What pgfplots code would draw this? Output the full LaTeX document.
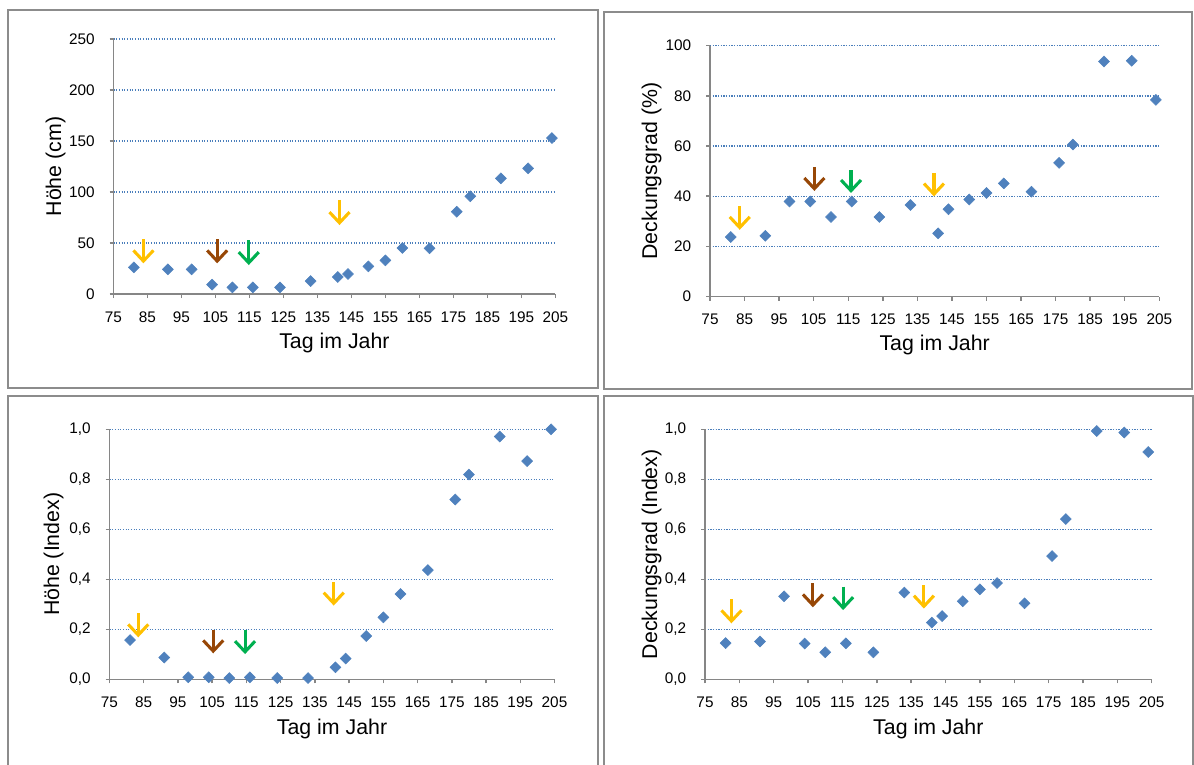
\documentclass[border=0pt]{standalone}
\usepackage{pgfplots}
\pgfplotsset{compat=1.18}
\usepackage{fontspec}
\setmainfont{Liberation Sans}
\usetikzlibrary{arrows.meta}
\definecolor{ptblue}{HTML}{4F81BD}
\definecolor{gridblue}{HTML}{4A7EBB}
\definecolor{axgray}{HTML}{868686}
\definecolor{boxgray}{HTML}{8C8C8C}
\definecolor{ayellow}{HTML}{FFC000}
\definecolor{abrown}{HTML}{974706}
\definecolor{agreen}{HTML}{00B050}
\pgfplotsset{
  panel/.style={
    scale only axis,
    xmin=75, xmax=205,
    xtick={75,85,...,205},
    axis x line*=bottom, axis y line*=left,
    axis line style={axgray, line width=1.1pt, -},
    tick style={axgray, line width=1.1pt},
    major tick length=3pt,
    tick align=outside,
    ymajorgrids,
    major grid style={gridblue, line width=1pt, dash pattern=on 0.9pt off 1.1pt},
    tick label style={font=\fontsize{11.5}{13}\selectfont},
    xticklabel style={anchor=center, inner sep=0pt, yshift=-14.25pt},
    yticklabel style={anchor=east, inner sep=0pt, xshift=-10.9pt},
    label style={font=\fontsize{16}{19}\selectfont},
    /pgf/number format/assume math mode=true,
    clip=false,
    xlabel={Tag im Jahr},
  },
  pts/.style={only marks, mark=square*, mark size=2.9pt, mark options={rotate=45, fill=ptblue, draw=ptblue}},
  arr/.style={no marks, line width=2.3pt, -{Straight Barb[length=8pt, width=15pt]}},
}
\begin{document}
\begin{tikzpicture}
\useasboundingbox (0,0) rectangle (895.5pt,-573pt);
\draw[boxgray, line width=1.5pt] (5.625pt,-7.125pt) rectangle (448.125pt,-290.625pt);
\draw[boxgray, line width=1.5pt] (453pt,-8.775pt) rectangle (894pt,-291.975pt);
\draw[boxgray, line width=1.5pt] (6.3pt,-297pt) rectangle (448.125pt,-590pt);
\draw[boxgray, line width=1.5pt] (453pt,-297pt) rectangle (894.75pt,-590pt);

% Panel 1
\begin{axis}[panel, at={(85.125pt,-220.5pt)}, anchor=south west,
  width=331.35pt, height=191.25pt,
  ymin=0, ymax=250, ytick={0,50,...,250},
  ylabel={Höhe (cm)},
  xlabel style={at={(axis description cs:0.5,-0.191)}, anchor=center},
  ylabel style={at={(axis description cs:-0.131,0.5)}, anchor=center}]
\addplot[pts] coordinates {
(81,26.1) (91,24.2) (98,24.2) (104,9.2) (110,6.5) (116,6.5) (124,6.5) (133,12.7)
(141,16.7) (144,19.6) (150,27.1) (155,33.0) (160,45.1) (168,44.8) (176,80.7)
(180,95.8) (189,113.4) (197,123.2) (204,152.9)};
\addplot[arr, ayellow] coordinates {(83.8,53.9) (83.8,30.1)};
\addplot[arr, abrown] coordinates {(105.5,53.9) (105.5,30.1)};
\addplot[arr, agreen] coordinates {(114.8,52.9) (114.8,28.4)};
\addplot[arr, ayellow] coordinates {(141.5,92.2) (141.5,67.6)};
\end{axis}

% Panel 2
\begin{axis}[panel, at={(532.5pt,-222.375pt)}, anchor=south west,
  width=336.975pt, height=188.1pt,
  ymin=0, ymax=100, ytick={0,20,...,100},
  ylabel={Deckungsgrad (\%)},
  xlabel style={at={(axis description cs:0.5,-0.193)}, anchor=center},
  ylabel style={at={(axis description cs:-0.130,0.5)}, anchor=center}]
\addplot[pts] coordinates {
(81,23.7) (91,24.2) (98,37.9) (104,37.9) (110,31.7) (116,37.9) (124,31.7) (133,36.5)
(141,25.2) (144,34.8) (150,38.7) (155,41.3) (160,45.1) (168,41.8) (176,53.3)
(180,60.6) (189,93.7) (197,94.0) (204,78.4)};
\addplot[arr, ayellow] coordinates {(83.6,36.1) (83.6,26.6)};
\addplot[arr, abrown] coordinates {(105.2,51.7) (105.2,42.1)};
\addplot[arr, agreen] coordinates {(115.8,50.3) (115.8,41.3)};
\addplot[arr, ayellow] coordinates {(139.8,49.3) (139.8,39.9)};
\end{axis}

% Panel 3
\begin{axis}[panel, at={(82.125pt,-509.475pt)}, anchor=south west,
  width=333.75pt, height=187.5pt,
  ymin=0, ymax=1, ytick={0,0.2,...,1.0},
  yticklabel style={/pgf/number format/.cd, fixed, fixed zerofill, precision=1, use comma},
  ylabel={Höhe (Index)},
  xlabel style={at={(axis description cs:0.5,-0.2)}, anchor=center},
  ylabel style={at={(axis description cs:-0.1256,0.5)}, anchor=center}]
\addplot[pts] coordinates {
(81,0.157) (91,0.087) (98,0.008) (104,0.008) (110,0.005) (116,0.008) (124,0.005) (133,0.005)
(141,0.048) (144,0.083) (150,0.173) (155,0.248) (160,0.341) (168,0.437) (176,0.719)
(180,0.819) (189,0.971) (197,0.873) (204,1.0)};
\addplot[arr, ayellow] coordinates {(83.4,0.264) (83.4,0.168)};
\addplot[arr, abrown] coordinates {(105.3,0.197) (105.3,0.104)};
\addplot[arr, agreen] coordinates {(114.6,0.197) (114.6,0.101)};
\addplot[arr, ayellow] coordinates {(140.5,0.388) (140.5,0.295)};
\end{axis}

% Panel 4
\begin{axis}[panel, at={(528.75pt,-509.475pt)}, anchor=south west,
  width=335.025pt, height=187.5pt,
  ymin=0, ymax=1, ytick={0,0.2,...,1.0},
  yticklabel style={/pgf/number format/.cd, fixed, fixed zerofill, precision=1, use comma},
  ylabel={Deckungsgrad (Index)},
  xlabel style={at={(axis description cs:0.5,-0.2)}, anchor=center},
  ylabel style={at={(axis description cs:-0.1193,0.5)}, anchor=center}]
\addplot[pts] coordinates {
(81,0.145) (91,0.151) (98,0.332) (104,0.143) (110,0.108) (116,0.144) (124,0.108) (133,0.347)
(141,0.227) (144,0.253) (150,0.312) (155,0.360) (160,0.385) (168,0.304) (176,0.493)
(180,0.641) (189,0.993) (197,0.987) (204,0.909)};
\addplot[arr, ayellow] coordinates {(82.7,0.320) (82.7,0.224)};
\addplot[arr, abrown] coordinates {(106.4,0.384) (106.4,0.288)};
\addplot[arr, agreen] coordinates {(115.2,0.371) (115.2,0.277)};
\addplot[arr, ayellow] coordinates {(138.7,0.377) (138.7,0.283)};
\end{axis}
\end{tikzpicture}
\end{document}
